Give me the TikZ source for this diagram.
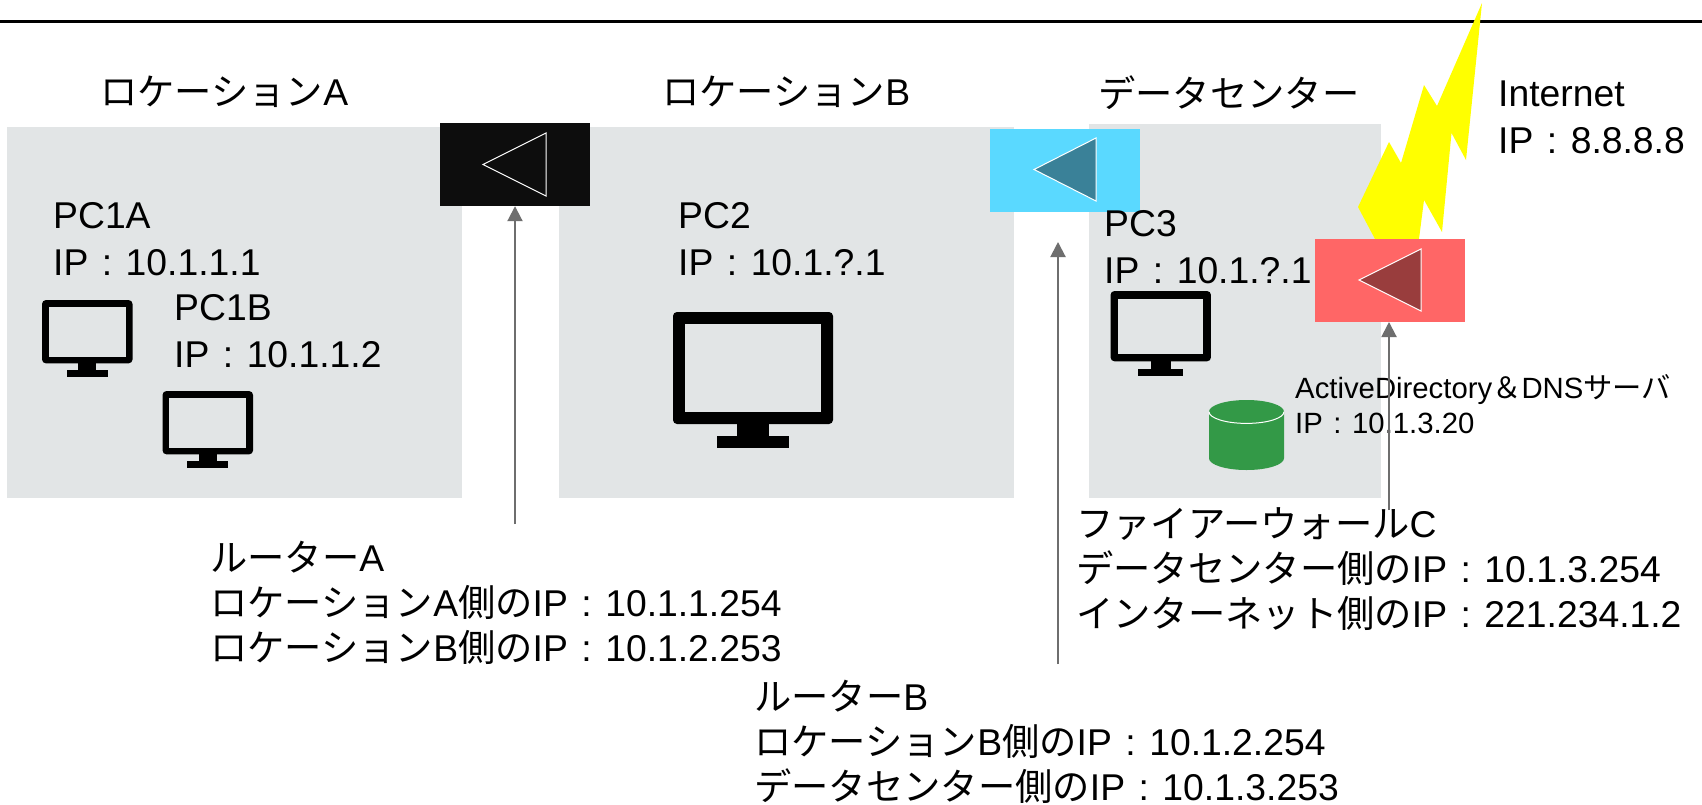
\documentclass[tikz,border=0pt]{standalone}
\usepackage{fontspec}
\setmainfont{Liberation Sans}
\newfontfamily\cjkjp{Noto Sans CJK JP}
\newcommand\jp[1]{{\cjkjp #1}}
\newcommand\strA{\rule{0pt}{36pt}}
\newcommand\strB{\rule{0pt}{28pt}}
\newcommand\cln{\makebox[1em]{:}}
\usetikzlibrary{arrows.meta}
\definecolor{roomgrey}{HTML}{E2E5E6}
\definecolor{linkgrey}{HTML}{6E6E6E}
\definecolor{routerblack}{HTML}{0D0D0D}
\definecolor{routerblue}{HTML}{5AD9FF}
\definecolor{triblue}{HTML}{3A8198}
\definecolor{fwred}{HTML}{FF6666}
\definecolor{trired}{HTML}{993D3D}
\definecolor{dbgreen}{HTML}{339947}
\definecolor{boltyellow}{HTML}{FFFF00}
\tikzset{
  x=1pt,y=-1pt,
  room/.style={fill=roomgrey,draw=none},
  routerbox/.style={rectangle,minimum width=150pt,minimum height=83pt,inner sep=0pt,draw=none},
  tri/.style={draw=white,line width=1pt,line join=miter},
  lbl/.style={anchor=north west,inner sep=0pt,align=left,font=\fontsize{37.3pt}{47pt}\selectfont},
  lblc/.style={anchor=north west,inner sep=0pt,align=left,font=\fontsize{37.3pt}{45pt}\selectfont},
  lbls/.style={anchor=north west,inner sep=0pt,align=left,font=\fontsize{29.3pt}{35pt}\selectfont},
  link/.style={draw=linkgrey,line width=2pt,-{Triangle[length=15pt,width=15pt]}},
  monitor/.pic={
    \fill[black,rounded corners=4pt] (0,0) rectangle (160,112);
    \fill[roomgrey] (11.5,12) rectangle (148,100);
    \fill[black] (64,112) rectangle (96,124);
    \fill[black] (44,124) rectangle (116,136);
  }
}
\begin{document}
\begin{tikzpicture}
\useasboundingbox (0,0) rectangle (1702,804);
\fill[white] (0,0) rectangle (1702,804);
% top rule
\draw[black,line width=3pt] (0,21) -- (1702,21);
% rooms
\path[room] (7,127) rectangle (462,498);
\path[room] (559,127) rectangle (1014,498);
\path[room] (1088.5,124) rectangle (1381,498);
% monitors
\pic[scale=.566] at (42,300) {monitor};
\pic[scale=.566] at (162.5,391) {monitor};
\pic at (673,312) {monitor};
\pic[scale=.628] at (1110.5,291) {monitor};
% database
\fill[dbgreen] (1209,411.7) .. controls (1209,405.2) and (1225.8,400) .. (1246.5,400)
  .. controls (1267.2,400) and (1284,405.2) .. (1284,411.7)
  -- (1284,458.3) .. controls (1284,464.8) and (1267.2,470) .. (1246.5,470)
  .. controls (1225.8,470) and (1209,464.8) .. (1209,458.3) -- cycle;
\draw[white,line width=1pt] (1209,411.7) .. controls (1209,418.2) and (1225.8,423.4) .. (1246.5,423.4)
  .. controls (1267.2,423.4) and (1284,418.2) .. (1284,411.7);
% lightning
\fill[boltyellow] (1482,3) -- (1466,160) -- (1451.5,133) -- (1442,232) -- (1424,200) -- (1419,239)
  -- (1375,239) -- (1358,207) -- (1389,142) -- (1401,163) -- (1424,85) -- (1437,106) -- cycle;
% routers
\node[routerbox,fill=routerblack] (routerA) at (515,164.5) {};
\draw[tri,fill=routerblack] (483,164.5) -- (546,133) -- (546,196) -- cycle;
\node[routerbox,fill=routerblue] (routerB) at (1065,170) {};
\draw[tri,fill=triblue] (1034,169.5) -- (1096,138) -- (1096,201) -- cycle;
\node[routerbox,fill=fwred] (firewallC) at (1390,280) {};
\draw[tri,fill=trired] (1359,280) -- (1421,249) -- (1421,311) -- cycle;
% labels
\node[lbl] (titleA) at (100,69) {\strA\jp{ロケーション}A};
\node[lbl] (titleB) at (662,69) {\strA\jp{ロケーション}B};
\node[lbl] (titleC) at (1098,71) {\strA\jp{データセンター}};
\node[lbl] (pcA) at (53,192) {\strA PC1A\\IP\cln 10.1.1.1};
\node[lbl] (pcB) at (174,284) {\strA PC1B\\IP\cln 10.1.1.2};
\node[lbl] (pcTwo) at (678,192) {\strA PC2\\IP\cln 10.1.?.1};
\node[lbl] (pcThree) at (1104,200) {\strA PC3\\IP\cln 10.1.?.1};
\node[lbl] (inet) at (1498,70) {\strA Internet\\IP\cln 8.8.8.8};
\node[lbls] (adserver) at (1295,370) {\strB ActiveDirectory\jp{＆}DNS\jp{サーバ}\\IP\cln 10.1.3.20};
\node[lblc] (lblA) at (210,535) {\strA\jp{ルーター}A\\\jp{ロケーション}A\jp{側の}IP\cln 10.1.1.254\\\jp{ロケーション}B\jp{側の}IP\cln 10.1.2.253};
\node[lblc] (lblC) at (1076,501) {\strA\jp{ファイアーウォール}C\\\jp{データセンター側の}IP\cln 10.1.3.254\\\jp{インターネット側の}IP\cln 221.234.1.2};
\node[lblc] (lblB) at (754,674.5) {\strA\jp{ルーター}B\\\jp{ロケーション}B\jp{側の}IP\cln 10.1.2.254\\\jp{データセンター側の}IP\cln 10.1.3.253};
% connectors
\coordinate (fromA) at (515,524);
\coordinate (toB) at (1058,242);
\coordinate (fromB) at (1058,664);
\coordinate (toC) at (1389,322);
\coordinate (fromC) at (1389,510);
\draw[link] (fromA) -- (routerA.south);
\draw[link] (fromB) -- (toB);
\draw[link] (fromC) -- (toC);
\end{tikzpicture}
\end{document}
